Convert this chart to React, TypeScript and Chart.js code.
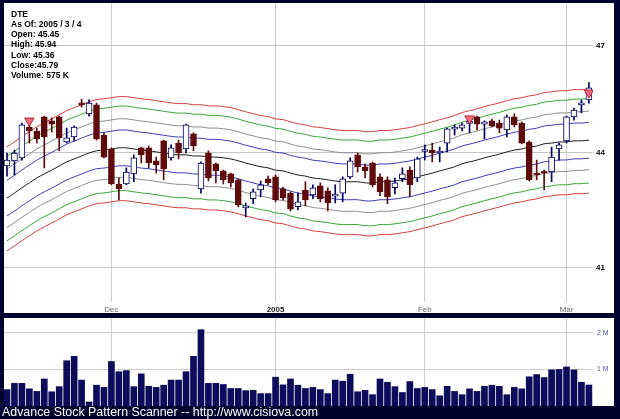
import React, { useEffect, useRef } from "react";
import { Chart, registerables } from "chart.js";
Chart.register(...registerables);

const FONT = "'Liberation Sans', Arial, sans-serif";

// ---- data (index 0 = 2004-11-10 ... index 78 = 2005-03-04) ----
const opens = [43.64, 43.78, 43.86, 44.70, 44.59, 44.98, 44.87, 44.98, 44.29, 44.43,
  45.36, 45.06, 45.31, 44.48, 44.10, 43.16, 43.16, 43.43, 44.13, 44.13,
  43.78, 44.32, 43.86, 44.26, 44.10, 44.51, 43.03, 43.99, 43.70, 43.51,
  43.43, 43.27, 42.53, 42.77, 43.00, 43.30, 43.35, 43.03, 42.92, 42.56,
  43.00, 42.87, 43.11, 42.98, 42.84, 42.92, 43.35, 43.94, 43.62, 43.72,
  43.35, 43.27, 43.06, 43.30, 43.53, 43.32, 44.03, 44.07, 43.99, 44.26,
  44.64, 44.67, 44.80, 44.98, 44.78, 44.87, 44.81, 44.62, 44.98, 44.81,
  44.29, 43.41, 43.46, 43.48, 44.10, 44.32, 44.98, 45.31, 45.45];
const highs = [43.99, 44.07, 44.81, 44.84, 44.67, 45.00, 44.95, 45.00, 44.67, 44.73,
  45.47, 45.45, 45.36, 44.54, 44.13, 43.32, 43.59, 43.94, 44.15, 44.18,
  43.88, 44.34, 44.21, 44.34, 44.78, 44.54, 43.75, 44.05, 43.72, 43.53,
  43.45, 43.30, 42.66, 43.03, 43.24, 43.37, 43.40, 43.08, 42.95, 42.92,
  43.22, 43.14, 43.19, 43.06, 43.14, 43.35, 43.86, 43.99, 43.70, 43.75,
  43.43, 43.35, 43.32, 43.59, 43.62, 43.88, 44.21, 44.26, 44.15, 44.67,
  44.76, 44.81, 44.98, 45.00, 44.87, 44.92, 44.89, 45.03, 45.06, 44.84,
  44.32, 43.80, 43.53, 44.15, 44.26, 45.00, 45.22, 45.45, 45.94];
const lows = [43.37, 43.40, 43.80, 44.26, 44.26, 43.59, 44.56, 44.05, 44.26, 44.32,
  45.25, 45.00, 44.34, 43.86, 43.14, 42.74, 43.14, 43.22, 43.72, 43.59,
  43.45, 43.27, 43.80, 43.83, 43.99, 44.05, 42.92, 43.24, 43.19, 43.16,
  43.08, 42.56, 42.30, 42.64, 42.82, 43.14, 42.69, 42.74, 42.45, 42.48,
  42.58, 42.77, 42.69, 42.45, 42.66, 42.69, 43.30, 43.48, 43.32, 43.08,
  42.85, 42.64, 42.90, 43.22, 42.82, 43.22, 43.80, 43.75, 43.75, 44.02,
  44.48, 44.59, 44.54, 44.62, 44.37, 44.70, 44.54, 44.43, 44.70, 44.24,
  43.24, 43.27, 43.00, 43.22, 43.80, 44.26, 44.89, 45.09, 45.36];
const closes = [43.80, 43.99, 44.76, 44.59, 44.37, 44.43, 44.78, 44.40, 44.40, 44.70,
  45.31, 45.36, 44.37, 43.88, 43.16, 43.03, 43.48, 43.86, 43.94, 43.72,
  43.67, 43.56, 44.13, 43.99, 44.76, 44.18, 43.72, 43.32, 43.51, 43.27,
  43.19, 42.61, 42.58, 42.95, 43.14, 43.19, 42.74, 42.79, 42.50, 42.69,
  42.74, 43.06, 42.77, 42.66, 42.85, 43.30, 43.78, 43.62, 43.51, 43.14,
  42.95, 42.82, 43.19, 43.43, 43.14, 43.83, 44.05, 43.99, 44.02, 44.65,
  44.65, 44.76, 44.81, 44.78, 44.84, 44.73, 44.67, 44.98, 44.76, 44.26,
  43.27, 43.40, 43.45, 43.88, 44.21, 44.98, 45.17, 45.36, 45.79];
const volumesK = [450, 620, 620, 470, 400, 740, 390, 530, 1240, 1360,
  710, 110, 570, 510, 1220, 940, 970, 530, 880, 540,
  510, 570, 710, 710, 940, 1360, 2090, 620, 620, 590,
  480, 480, 420, 430, 340, 340, 790, 580, 740, 570,
  480, 510, 450, 340, 710, 680, 870, 390, 430, 310,
  740, 650, 530, 370, 670, 480, 510, 450, 280, 540,
  400, 310, 470, 400, 540, 570, 540, 310, 510, 470,
  800, 860, 780, 990, 1000, 1070, 990, 650, 575];
const centerLine = [42.79, 42.92, 43.06, 43.19, 43.32, 43.43, 43.53, 43.64, 43.75, 43.83,
  43.91, 43.99, 44.05, 44.07, 44.10, 44.13, 44.13, 44.10, 44.07, 44.05,
  44.02, 43.99, 43.96, 43.94, 43.94, 43.91, 43.91, 43.88, 43.88, 43.86,
  43.83, 43.78, 43.72, 43.67, 43.62, 43.59, 43.53, 43.51, 43.45, 43.40,
  43.37, 43.32, 43.30, 43.27, 43.24, 43.22, 43.22, 43.22, 43.19, 43.19,
  43.22, 43.22, 43.24, 43.27, 43.30, 43.35, 43.40, 43.45, 43.51, 43.56,
  43.62, 43.70, 43.75, 43.80, 43.86, 43.91, 43.96, 44.02, 44.07, 44.10,
  44.15, 44.18, 44.24, 44.26, 44.29, 44.29, 44.32, 44.32, 44.34];
const bandPercents = [1.1, 1.8, 2.6, 3.2];
const bandColors = ["#3a3ab6", "#8c8c8c", "#33a633", "#d43c3c"];
const monthTickIdx = [14, 36, 56, 75];
const monthTickLabels = ["Dec", "2005", "Feb", "Mar"];
const priceTicks = [41, 44, 47];
const volumeTicksK = [1000, 2000];
const volumeTickLabels = ["1 M", "2 M"];
const signalIdx = [3, 62, 78];
const signalPrice = [44.87, 44.93, 45.65];
const legendLines = ["DTE", "As Of: 2005 / 3 / 4", "Open: 45.45", "High: 45.94", "Low: 45.36", "Close:45.79", "Volume: 575 K"];

const X_MIN = -0.4;
const X_MAX = 78.55;
const P_MIN = 40.14;
const P_MAX = 48.24;
const V_MAX = 2410;
const UP_LINE = "#00005e";
const DOWN_FILL = "#5e0b0b";

function xScale(showLabels: boolean): any {
  return {
    type: "linear",
    min: X_MIN,
    max: X_MAX,
    offset: false,
    bounds: "data",
    afterBuildTicks: (s: any) => {
      s.ticks = monthTickIdx.map((v) => ({ value: v }));
      s.min = X_MIN;
      s.max = X_MAX;
    },
    afterFit: (s: any) => {
      s.height = showLabels ? 11 : 0;
      s.paddingLeft = 0;
      s.paddingRight = 0;
    },
    ticks: {
      display: showLabels,
      autoSkip: false,
      maxRotation: 0,
      padding: 3,
      font: (ctx: any) => ({ family: FONT, size: 8, weight: ctx.tick && ctx.tick.value === 36 ? "bold" : "normal" }),
      color: (ctx: any) => (ctx.tick && ctx.tick.value === 36 ? "#222" : "#666"),
      callback: (v: any) => {
        const k = monthTickIdx.indexOf(Number(v));
        return k >= 0 ? monthTickLabels[k] : "";
      },
    },
    grid: { color: "#cdcdcd", drawTicks: false, tickLength: 0, offset: false },
    border: { display: false },
  };
}

export default function App() {
  const priceRef = useRef<HTMLCanvasElement>(null);
  const volRef = useRef<HTMLCanvasElement>(null);

  useEffect(() => {
    document.body.style.margin = "0";
    document.body.style.background = "#00002e";
    const idx = closes.map((_, i) => i);
    const up = idx.map((i) => closes[i] >= opens[i]);

    const bandDatasets: any[] = [];
    bandPercents.forEach((p, k) => {
      [1, -1].forEach((sign) => {
        bandDatasets.push({
          type: "line",
          data: centerLine.map((c, i) => ({ x: i, y: c * (1 + (sign * p) / 100) })),
          borderColor: bandColors[k],
          borderWidth: 1,
          pointRadius: 0,
          tension: 0.3,
          fill: false,
          order: 5,
        });
      });
    });
    bandDatasets.push({
      type: "line",
      data: centerLine.map((c, i) => ({ x: i, y: c })),
      borderColor: "#1a1a1a",
      borderWidth: 1,
      pointRadius: 0,
      tension: 0.3,
      fill: false,
      order: 5,
    });

    const price = new Chart(priceRef.current as HTMLCanvasElement, {
      type: "bar",
      data: {
        datasets: [
          ...bandDatasets,
          {
            type: "bar",
            data: idx.map((i) => ({ x: i, y: [lows[i], highs[i]] })),
            backgroundColor: idx.map((i) => (up[i] ? UP_LINE : DOWN_FILL)),
            borderWidth: 0,
            barThickness: 1,
            grouped: false,
            order: 3,
          },
          {
            type: "bar",
            data: idx.map((i) => ({ x: i, y: [opens[i], closes[i]] })),
            backgroundColor: idx.map((i) => (up[i] ? "#ffffff" : DOWN_FILL)),
            borderColor: idx.map((i) => (up[i] ? UP_LINE : DOWN_FILL)),
            borderWidth: 1,
            borderSkipped: false,
            barThickness: 6,
            minBarLength: 2,
            grouped: false,
            order: 2,
          },
          {
            type: "line",
            data: signalIdx.map((i, k) => ({ x: i, y: signalPrice[k] })),
            showLine: false,
            pointStyle: "triangle",
            pointRotation: 180,
            pointRadius: 5.5,
            pointBackgroundColor: "#f2707e",
            pointBorderColor: "#b8283c",
            pointBorderWidth: 1,
            order: 0,
          },
        ] as any,
      },
      options: {
        responsive: false,
        maintainAspectRatio: false,
        animation: false,
        layout: { padding: 0, autoPadding: false },
        plugins: { legend: { display: false }, tooltip: { enabled: false } },
        scales: {
          x: xScale(true),
          y: {
            type: "logarithmic",
            position: "right",
            min: P_MIN,
            max: P_MAX,
            bounds: "data",
            afterBuildTicks: (s: any) => {
              s.ticks = priceTicks.map((v) => ({ value: v }));
              s.min = P_MIN;
              s.max = P_MAX;
            },
            afterFit: (s: any) => {
              s.width = 21;
              s.paddingTop = 0;
              s.paddingBottom = 0;
            },
            ticks: {
              padding: 3,
              color: "#000",
              font: { family: FONT, size: 8, weight: "bold" },
              callback: (v: any) => String(v),
            },
            grid: { color: "#c4c4c4", drawTicks: false, tickLength: 0 },
            border: { display: false },
          },
        } as any,
      },
    });

    const vol = new Chart(volRef.current as HTMLCanvasElement, {
      type: "bar",
      data: {
        datasets: [
          {
            data: idx.map((i) => ({ x: i, y: volumesK[i] })),
            backgroundColor: "#0c0c5a",
            borderWidth: 0,
            barThickness: 6,
            grouped: false,
          },
        ] as any,
      },
      options: {
        responsive: false,
        maintainAspectRatio: false,
        animation: false,
        layout: { padding: 0, autoPadding: false },
        plugins: { legend: { display: false }, tooltip: { enabled: false } },
        scales: {
          x: xScale(false),
          y: {
            type: "linear",
            position: "right",
            min: 0,
            max: V_MAX,
            bounds: "data",
            afterBuildTicks: (s: any) => {
              s.ticks = volumeTicksK.map((v) => ({ value: v }));
              s.min = 0;
              s.max = V_MAX;
            },
            afterFit: (s: any) => {
              s.width = 21;
              s.paddingTop = 0;
              s.paddingBottom = 0;
            },
            ticks: {
              padding: 4,
              color: "#5656a8",
              font: { family: FONT, size: 7 },
              callback: (v: any) => {
                const k = volumeTicksK.indexOf(Number(v));
                return k >= 0 ? volumeTickLabels[k] : "";
              },
            },
            grid: { color: "#cdcdcd", drawTicks: false, tickLength: 0 },
            border: { display: false },
          },
        } as any,
      },
    });

    return () => {
      price.destroy();
      vol.destroy();
    };
  }, []);

  return (
    <div style={{ position: "relative", width: 620, height: 419, background: "#00002e", overflow: "hidden" }}>
      <div style={{ position: "absolute", left: 4, top: 3, width: 610, height: 310, background: "#fff" }}>
        <canvas ref={priceRef} width={610} height={310} style={{ display: "block", width: 610, height: 310 }} />
      </div>
      <div
        style={{
          position: "absolute",
          left: 11,
          top: 8.5,
          fontFamily: FONT,
          fontWeight: "bold",
          fontSize: 8.5,
          lineHeight: "10.25px",
          color: "#000",
          whiteSpace: "pre",
        }}
      >
        {legendLines.map((t, i) => (
          <div key={i}>{t}</div>
        ))}
      </div>
      <div style={{ position: "absolute", left: 4, top: 318, width: 610, height: 88, background: "#fff" }}>
        <canvas ref={volRef} width={610} height={88} style={{ display: "block", width: 610, height: 88 }} />
      </div>
      <div
        style={{
          position: "absolute",
          left: 2,
          top: 406,
          fontFamily: FONT,
          fontSize: 12.4,
          lineHeight: "13px",
          color: "#fff",
          whiteSpace: "pre",
        }}
      >
        Advance Stock Pattern Scanner -- http://www.cisiova.com
      </div>
    </div>
  );
}
